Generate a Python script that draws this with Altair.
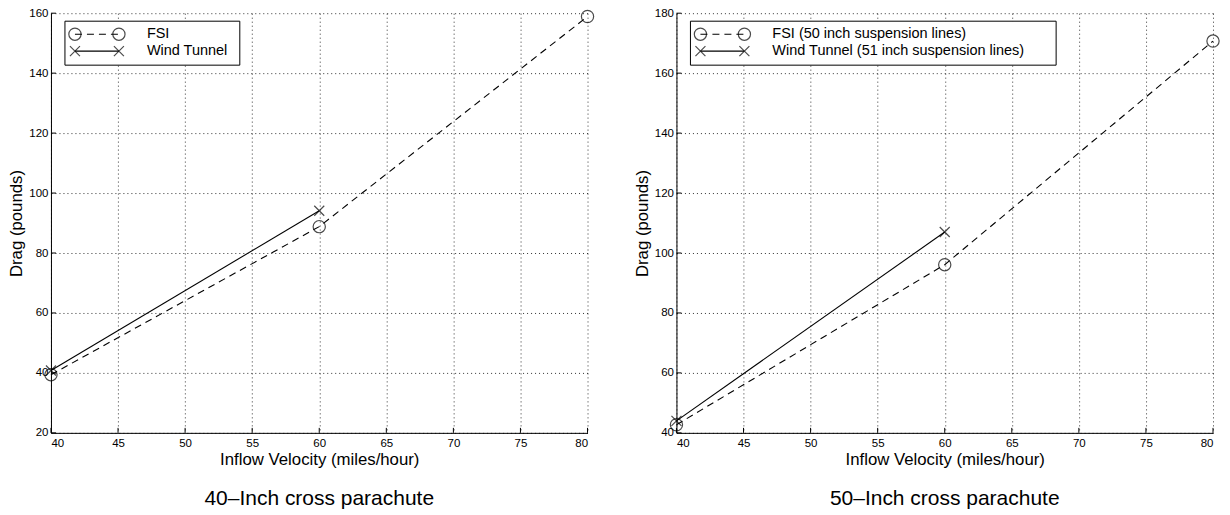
import altair as alt
import pandas as pd

# ---- data ----
velocity_fsi = [40, 60, 80]
velocity_wt = [40, 60]
fsi_40 = [39.4, 88.8, 158.9]
wt_40 = [40.8, 94.1]
fsi_50 = [42.7, 96.1, 170.7]
wt_50 = [44.0, 107.0]

x_ticks = [40, 45, 50, 55, 60, 65, 70, 75, 80]
y_ticks_40 = [20, 40, 60, 80, 100, 120, 140, 160]
y_ticks_50 = [40, 60, 80, 100, 120, 140, 160, 180]

FONT = "Liberation Sans"
W, H = 537, 420
X_CROSS = "M-1,-1L1,1M1,-1L-1,1"


def panel(fsi, wt, yticks, fsi_label, wt_label, caption, box_w):
    ydom = [yticks[0], yticks[-1]]
    fsi_df = pd.DataFrame({"v": velocity_fsi, "d": fsi})
    wt_df = pd.DataFrame({"v": velocity_wt, "d": wt})
    xs = alt.Scale(domain=[40, 80], nice=False, zero=False)
    ys = alt.Scale(domain=ydom, nice=False, zero=False)
    xax = alt.Axis(values=x_ticks, title="Inflow Velocity (miles/hour)", grid=True,
                   ticks=False, labelPadding=5, titlePadding=2)
    yax = alt.Axis(values=yticks, title="Drag (pounds)", grid=True,
                   ticks=False, labelPadding=3, titlePadding=3)

    base_f = alt.Chart(fsi_df)
    base_w = alt.Chart(wt_df)
    fsi_line = base_f.mark_line(color="black", strokeWidth=1.1, strokeDash=[7, 5]).encode(
        x=alt.X("v:Q", scale=xs, axis=xax), y=alt.Y("d:Q", scale=ys, axis=yax))
    fsi_pts = base_f.mark_point(shape="circle", size=150, color="black", strokeWidth=1.2,
                                filled=False).encode(x=alt.X("v:Q", scale=xs), y=alt.Y("d:Q", scale=ys))
    wt_line = base_w.mark_line(color="black", strokeWidth=1.1).encode(
        x=alt.X("v:Q", scale=xs), y=alt.Y("d:Q", scale=ys))
    wt_pts = base_w.mark_point(shape=X_CROSS, size=100, color="black", strokeWidth=1.2,
                               filled=False).encode(x=alt.X("v:Q", scale=xs), y=alt.Y("d:Q", scale=ys))

    # inward ticks
    xt = alt.Chart(pd.DataFrame({"t": x_ticks})).mark_rule(color="black", strokeWidth=1).encode(
        x=alt.X("t:Q", scale=xs), y=alt.value(H), y2=alt.value(H - 5))
    yt = alt.Chart(pd.DataFrame({"t": yticks})).mark_rule(color="black", strokeWidth=1).encode(
        y=alt.Y("t:Q", scale=ys), x=alt.value(0), x2=alt.value(5))

    # legend box
    lg = alt.Chart(pd.DataFrame({"a": [0]}))
    box = lg.mark_rect(fill="white", stroke="black", strokeWidth=1).encode(
        x=alt.value(14), x2=alt.value(14 + box_w), y=alt.value(8), y2=alt.value(52))
    l1 = lg.mark_rule(color="black", strokeWidth=1.1, strokeDash=[7, 5]).encode(
        x=alt.value(24), x2=alt.value(68), y=alt.value(21))
    l1a = lg.mark_point(shape="circle", size=150, color="black", strokeWidth=1.2).encode(
        x=alt.value(24), y=alt.value(21))
    l1b = lg.mark_point(shape="circle", size=150, color="black", strokeWidth=1.2).encode(
        x=alt.value(68), y=alt.value(21))
    l2 = lg.mark_rule(color="black", strokeWidth=1.1).encode(
        x=alt.value(24), x2=alt.value(68), y=alt.value(38))
    l2a = lg.mark_point(shape=X_CROSS, size=100, color="black", strokeWidth=1.2).encode(
        x=alt.value(24), y=alt.value(38))
    l2b = lg.mark_point(shape=X_CROSS, size=100, color="black", strokeWidth=1.2).encode(
        x=alt.value(68), y=alt.value(38))
    t1 = lg.mark_text(align="left", baseline="middle", font=FONT, fontSize=14.5, color="black").encode(
        x=alt.value(96), y=alt.value(21), text=alt.value(fsi_label))
    t2 = lg.mark_text(align="left", baseline="middle", font=FONT, fontSize=14.5, color="black").encode(
        x=alt.value(96), y=alt.value(38), text=alt.value(wt_label))

    return alt.layer(fsi_line, wt_line, fsi_pts, wt_pts, xt, yt,
                     box, l1, l1a, l1b, l2, l2a, l2b, t1, t2).properties(
        width=W, height=H,
        title=alt.TitleParams(caption, orient="bottom", font=FONT, fontSize=21,
                              fontWeight="normal", color="black", offset=20, anchor="middle"))


left = panel(fsi_40, wt_40, y_ticks_40, "FSI", "Wind Tunnel", "40\u2013Inch cross parachute", 175)
right = panel(fsi_50, wt_50, y_ticks_50, "FSI (50 inch suspension lines)",
              "Wind Tunnel (51 inch suspension lines)", "50\u2013Inch cross parachute", 366)

chart = alt.hconcat(left, right, spacing=37).properties(
    padding={"left": 0, "top": -1, "right": 0, "bottom": 0}
).configure_view(stroke=None).configure_axis(
    domainColor="black", domainWidth=1, gridColor="black", gridDash=[1, 3], gridWidth=0.8,
    gridOpacity=1, labelFont=FONT, labelFontSize=11.5, labelColor="black",
    titleFont=FONT, titleFontSize=16.8, titleFontWeight="normal", titleColor="black"
)

chart.save("out.html", embed_options={"renderer": "svg", "actions": False})
